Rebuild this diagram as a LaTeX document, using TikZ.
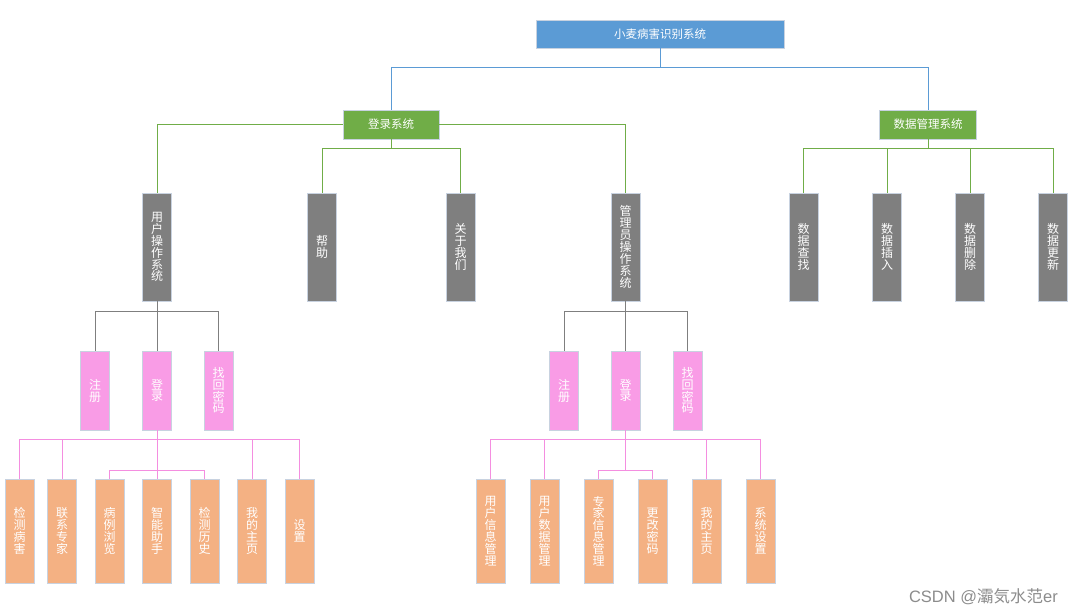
\documentclass[tikz,border=0pt]{standalone}
\usepackage{fontspec}
\setmainfont{Noto Sans CJK SC}
\newfontfamily\wmfont{Liberation Sans}
\usetikzlibrary{calc}
\definecolor{cblue}{HTML}{5B9BD5}
\definecolor{cgreen}{HTML}{70AD47}
\definecolor{cgray}{HTML}{7F7F7F}
\definecolor{cpink}{HTML}{F99CE6}
\definecolor{corange}{HTML}{F4B183}
\definecolor{cedge}{HTML}{C8D2E0}
\definecolor{plink}{HTML}{F48EE0}
\begin{document}
\begin{tikzpicture}[x=1pt,y=-1pt,
  box/.style={rectangle,draw=cedge,line width=0.8pt,inner sep=0pt,text=white,align=center},
  hbox/.style={box,font=\fontsize{11.5}{13}\selectfont,minimum height=29pt},
  vbox/.style={box,font=\fontsize{12}{11.9}\selectfont,minimum width=29pt},
  graybox/.style={vbox,fill=cgray,minimum height=108pt},
  pinkbox/.style={vbox,fill=cpink,minimum height=79pt},
  orbox/.style={vbox,fill=corange,minimum height=104pt},
  bl/.style={draw=cblue,line width=0.9pt},
  gl/.style={draw=cgreen,line width=0.9pt},
  kl/.style={draw=cgray,line width=0.9pt},
  pl/.style={draw=plink,line width=0.9pt}]
\useasboundingbox (0,0) rectangle (1074,615);
% level 0/1
\node[hbox,fill=cblue,minimum width=248pt,minimum height=28pt] (top) at (660,34) {小麦病害识别系统};
\node[hbox,fill=cgreen,minimum width=96pt] (login) at (391,124.5) {登录系统};
\node[hbox,fill=cgreen,minimum width=97pt] (dms) at (928,124.5) {数据管理系统};
% level 2
\node[graybox] (uops) at (157,247) {用\\户\\操\\作\\系\\统};
\node[graybox] (help) at (322,247) {帮\\助};
\node[graybox] (about) at (460.5,247) {关\\于\\我\\们};
\node[graybox] (aops) at (625.5,247) {管\\理\\员\\操\\作\\系\\统};
\node[graybox] (d1) at (803.5,247) {数\\据\\查\\找};
\node[graybox] (d2) at (887,247) {数\\据\\插\\入};
\node[graybox] (d3) at (970,247) {数\\据\\删\\除};
\node[graybox] (d4) at (1053,247) {数\\据\\更\\新};
% level 3
\node[pinkbox] (ureg) at (95,390.5) {注\\册};
\node[pinkbox] (ulog) at (157,390.5) {登\\录};
\node[pinkbox] (upwd) at (218.5,390.5) {找\\回\\密\\码};
\node[pinkbox] (areg) at (564,390.5) {注\\册};
\node[pinkbox] (alog) at (625.5,390.5) {登\\录};
\node[pinkbox] (apwd) at (687.5,390.5) {找\\回\\密\\码};
% level 4 left
\node[orbox] (u1) at (19.5,531) {检\\测\\病\\害};
\node[orbox] (u2) at (62,531) {联\\系\\专\\家};
\node[orbox] (u3) at (109.5,531) {病\\例\\浏\\览};
\node[orbox] (u4) at (157,531) {智\\能\\助\\手};
\node[orbox] (u5) at (204.5,531) {检\\测\\历\\史};
\node[orbox] (u6) at (252,531) {我\\的\\主\\页};
\node[orbox] (u7) at (299.5,531) {设\\置};
% level 4 right
\node[orbox] (a1) at (490.5,531) {用\\户\\信\\息\\管\\理};
\node[orbox] (a2) at (544.5,531) {用\\户\\数\\据\\管\\理};
\node[orbox] (a3) at (598.5,531) {专\\家\\信\\息\\管\\理};
\node[orbox] (a4) at (652.5,531) {更\\改\\密\\码};
\node[orbox] (a5) at (706.5,531) {我\\的\\主\\页};
\node[orbox] (a6) at (760.5,531) {系\\统\\设\\置};
% connectors
\coordinate (j0) at ($(top.south)+(0,19)$);
\draw[bl] (top.south) -- (j0) -| (login.north);
\draw[bl] (j0) -| (dms.north);
\draw[gl] (login.west) -| (uops.north);
\draw[gl] (login.east) -| (aops.north);
\coordinate (j1) at ($(login.south)+(0,9)$);
\draw[gl] (login.south) -- (j1) -| (help.north);
\draw[gl] (j1) -| (about.north);
\coordinate (j2) at ($(dms.south)+(0,9)$);
\draw[gl] (dms.south) -- (j2) -| (d1.north);
\draw[gl] (j2) -| (d2.north);
\draw[gl] (j2) -| (d3.north);
\draw[gl] (j2) -| (d4.north);
\coordinate (j3) at ($(uops.south)+(0,10)$);
\draw[kl] (uops.south) -- (ulog.north);
\draw[kl] (j3) -| (ureg.north);
\draw[kl] (j3) -| (upwd.north);
\coordinate (j4) at ($(aops.south)+(0,10)$);
\draw[kl] (aops.south) -- (alog.north);
\draw[kl] (j4) -| (areg.north);
\draw[kl] (j4) -| (apwd.north);
\coordinate (j5) at ($(ulog.south)+(0,9)$);
\coordinate (j6) at ($(ulog.south)+(0,40)$);
\draw[pl] (ulog.south) -- (u4.north);
\draw[pl] (j5) -| (u1.north);
\draw[pl] (j5) -| (u2.north);
\draw[pl] (j5) -| (u6.north);
\draw[pl] (j5) -| (u7.north);
\draw[pl] (j6) -| (u3.north);
\draw[pl] (j6) -| (u5.north);
\coordinate (j7) at ($(alog.south)+(0,9)$);
\coordinate (j8) at ($(alog.south)+(0,40)$);
\draw[pl] (alog.south) -- (j8);
\draw[pl] (j7) -| (a1.north);
\draw[pl] (j7) -| (a2.north);
\draw[pl] (j7) -| (a5.north);
\draw[pl] (j7) -| (a6.north);
\draw[pl] (j8) -| (a3.north);
\draw[pl] (j8) -| (a4.north);
% watermark
\node[text=black!45,font=\fontsize{16.5}{18}\selectfont,anchor=east,inner sep=0pt] (wm) at (1058,597) {{\wmfont CSDN @}灞気水范{\wmfont er}};
\end{tikzpicture}
\end{document}
